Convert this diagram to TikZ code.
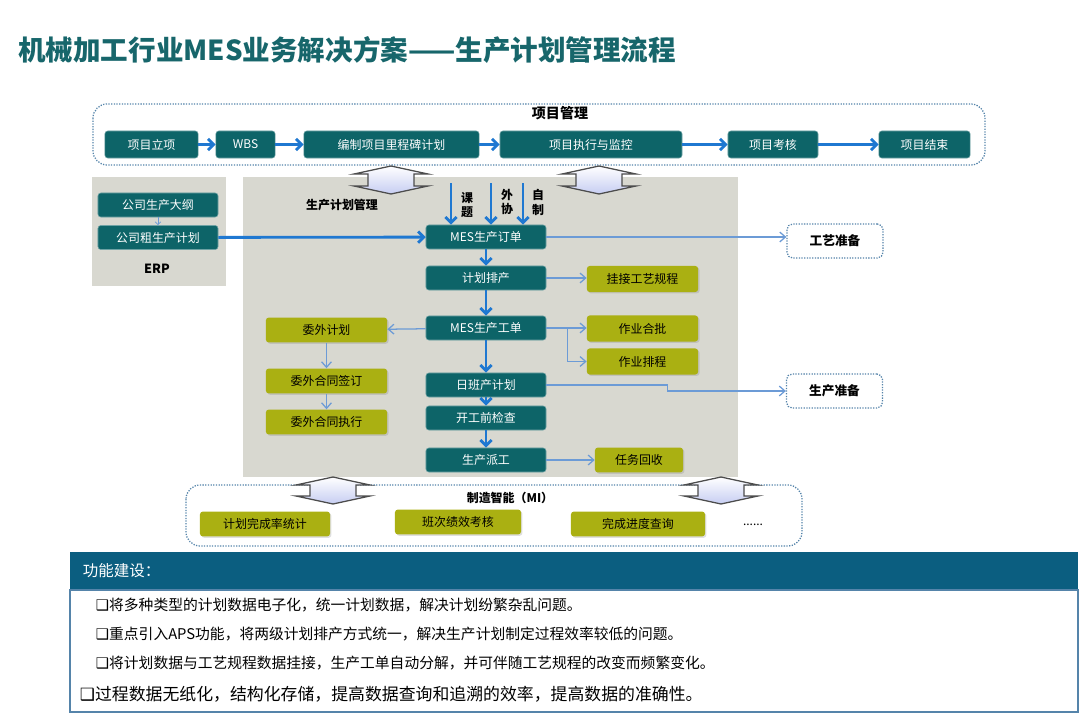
\documentclass[tikz,border=0pt]{standalone}
\usepackage{fontspec}
\setmainfont{Noto Sans CJK SC}
\newfontfamily\symfont{DejaVu Sans}
\usetikzlibrary{arrows.meta,positioning,shadows}
\definecolor{mestitle}{HTML}{17666B}
\definecolor{mesteal}{HTML}{0D6468}
\definecolor{mesolive}{HTML}{AAB012}
\definecolor{mesgray}{HTML}{D8D8D0}
\definecolor{mesblue}{HTML}{1F78D1}
\definecolor{mesthin}{HTML}{6C9BD6}
\definecolor{mesdash}{HTML}{5584AA}
\definecolor{meshead}{HTML}{0B5E80}
\definecolor{meslav}{HTML}{C6CDF2}

\begin{document}
\begin{tikzpicture}[x=0.025cm,y=-0.025cm,font=\fontsize{8.5}{10}\selectfont,
    tealbox/.style={draw=mesteal!60!white,fill=mesteal,text=white,rounded corners=2pt,minimum width=3cm,minimum height=0.6cm,inner sep=1pt},
    olivebox/.style={fill=mesolive,text=black,rounded corners=2pt,minimum width=3cm,minimum height=0.62cm,inner sep=1pt,
      drop shadow={shadow xshift=1pt,shadow yshift=-1pt,opacity=0.25}},
    prepbox/.style={draw=mesdash,densely dotted,line width=0.9pt,fill=white,rounded corners=4pt,minimum width=2.4cm,minimum height=0.85cm,font=\fontsize{9}{10}\selectfont\bfseries},
    bluearr/.style={-{Straight Barb[length=4pt,width=8pt]},mesblue,line width=2pt},
    thinarr/.style={-{Straight Barb[length=4pt,width=7pt]},mesthin,line width=0.9pt},
    boldlbl/.style={font=\fontsize{8.5}{10.6}\selectfont\bfseries,align=center,inner sep=0pt}]
  \useasboundingbox (0,0) rectangle (1080,716);
  \node[mestitle,anchor=west,font=\fontsize{19.6}{22}\selectfont\bfseries,inner sep=0pt] (title) at (18,50) {机械加工行业MES业务解决方案——生产计划管理流程};

  % panels
  \draw[mesdash,densely dotted,line width=0.9pt,rounded corners=10pt] (93,104) rectangle (985,165);
  \fill[mesgray] (92,177) rectangle (226,286);
  \fill[mesgray] (243,177) rectangle (738,477);
  \draw[mesdash,densely dotted,line width=0.9pt,rounded corners=10pt] (186,485) rectangle (802,546);

  % project management row
  \node[font=\fontsize{10}{12}\selectfont\bfseries] (pmlbl) at (560,113) {项目管理};
  \node[tealbox,minimum width=2.33cm,minimum height=0.675cm] (lx) at (151.5,144.5) {项目立项};
  \node[tealbox,minimum width=1.48cm,minimum height=0.675cm] (wbs) at (245.5,144.5) {WBS};
  \node[tealbox,minimum width=4.38cm,minimum height=0.675cm] (lcb) at (391.5,144.5) {编制项目里程碑计划};
  \node[tealbox,minimum width=4.55cm,minimum height=0.675cm] (zxjk) at (591,144.5) {项目执行与监控};
  \node[tealbox,minimum width=2.25cm,minimum height=0.675cm] (kh) at (773,144.5) {项目考核};
  \node[tealbox,minimum width=2.28cm,minimum height=0.675cm] (js) at (924.5,144.5) {项目结束};
  \draw[bluearr] (lx) -- (wbs);
  \draw[bluearr] (wbs) -- (lcb);
  \draw[bluearr] (lcb) -- (zxjk);
  \draw[bluearr] (zxjk) -- (kh);
  \draw[bluearr] (kh) -- (js);

  % ERP
  \node[tealbox] (dg) at (158,205) {公司生产大纲};
  \node[tealbox] (cjh) at (158,237.5) {公司粗生产计划};
  \node[boldlbl,font=\fontsize{9}{10}\selectfont\bfseries] (erp) at (157,269) {ERP};
  \draw[thinarr,line width=0.6pt,-{Straight Barb[length=2pt,width=4pt]}] (dg) -- (cjh);

  % production plan management
  \node[boldlbl] (ptitle) at (342,205) {生产计划管理};
  \node[tealbox] (dd) at (486,237) {MES生产订单};
  \node[tealbox] (pc) at (486,278) {计划排产};
  \node[tealbox] (gd) at (486,328) {MES生产工单};
  \node[tealbox] (rb) at (486,385) {日班产计划};
  \node[tealbox] (jc) at (486,418) {开工前检查};
  \node[tealbox] (pg) at (486,460) {生产派工};
  \node[olivebox,minimum width=2.78cm,minimum height=0.65cm] (gj) at (642.5,279) {挂接工艺规程};
  \node[olivebox,minimum width=2.78cm,minimum height=0.65cm] (hp) at (642.5,328.5) {作业合批};
  \node[olivebox,minimum width=2.78cm,minimum height=0.65cm] (pcg) at (642.5,361.5) {作业排程};
  \node[olivebox,minimum width=3.03cm] (wj) at (326.5,330) {委外计划};
  \node[olivebox,minimum width=3.03cm] (qd) at (326.5,381) {委外合同签订};
  \node[olivebox,minimum width=3.03cm] (zx) at (326.5,422) {委外合同执行};
  \node[olivebox,minimum width=2.2cm] (hs) at (639,460) {任务回收};
  \node[prepbox] (gyzb) at (835,241) {工艺准备};
  \node[prepbox] (sczb) at (834.5,391) {生产准备};

  \coordinate (kt) at (451,183);
  \coordinate (wx) at (491,183);
  \coordinate (zz) at (523,183);
  \node[boldlbl] (ktl) at (467,205) {课\\题};
  \node[boldlbl] (wxl) at (507,202) {外\\协};
  \node[boldlbl] (zzl) at (538,202) {自\\制};
  \draw[bluearr] (kt) -- (kt |- dd.north);
  \draw[bluearr] (wx) -- (wx |- dd.north);
  \draw[bluearr] (zz) -- (zz |- dd.north);

  \draw[bluearr] (cjh) -- (dd);
  \draw[bluearr] (dd) -- (pc);
  \draw[bluearr] (pc) -- (gd);
  \draw[bluearr] (gd) -- (rb);
  \draw[bluearr] (rb) -- (jc);
  \draw[bluearr] (jc) -- (pg);

  \draw[thinarr] (dd.east) -- (dd.east -| gyzb.west);
  \draw[thinarr] (rb.east) -- ++(121,0) |- (sczb.west);
  \draw[thinarr] (pc) -- (pc -| gj.west);
  \draw[thinarr] (gd) -- (gd -| hp.west);
  \draw[thinarr] (gd.east) ++(21,0) |- (pcg.west);
  \draw[thinarr] (gd) -- (wj);
  \draw[thinarr] (wj) -- (qd);
  \draw[thinarr] (qd) -- (zx);
  \draw[thinarr] (pg) -- (hs);

  % manufacturing intelligence
  \node[font=\fontsize{8.5}{10}\selectfont\bfseries] (milbl) at (510,498) {制造智能（MI）};
  \node[olivebox,minimum width=3.25cm] (t1) at (265,524) {计划完成率统计};
  \node[olivebox,minimum width=3.15cm] (t2) at (458,522) {班次绩效考核};
  \node[olivebox,minimum width=3.35cm] (t3) at (638,524) {完成进度查询};
  \node (more) at (753,525) {......};

  % up-down block arrows
  \foreach \cx/\yt/\yb in {391/166/194, 599/166/194, 333/477/504, 721/477/504}{
    \draw[black!70,line width=0.9pt,top color=white,bottom color=meslav]
      (\cx,\yt) -- (\cx+37,\yt+8) -- (\cx+23,\yt+8) -- (\cx+23,\yb-8) -- (\cx+37,\yb-8) -- (\cx,\yb)
      -- (\cx-37,\yb-8) -- (\cx-23,\yb-8) -- (\cx-23,\yt+8) -- (\cx-37,\yt+8) -- cycle;
  }

  % functions
  \fill[meshead] (70,552) rectangle (1078,590);
  \draw[mesdash,line width=0.8pt,fill=white] (70,590) rectangle (1078,712);
  \node[white,anchor=west,font=\fontsize{11}{13}\selectfont] (hdr) at (78,571) {功能建设：};
  \node[anchor=west,font=\fontsize{10.5}{12}\selectfont] (l1) at (91,605) {{\symfont ❑}将多种类型的计划数据电子化，统一计划数据，解决计划纷繁杂乱问题。};
  \node[anchor=west,font=\fontsize{10.5}{12}\selectfont] (l2) at (91,634) {{\symfont ❑}重点引入APS功能，将两级计划排产方式统一，解决生产计划制定过程效率较低的问题。};
  \node[anchor=west,font=\fontsize{10.5}{12}\selectfont] (l3) at (91,663) {{\symfont ❑}将计划数据与工艺规程数据挂接，生产工单自动分解，并可伴随工艺规程的改变而频繁变化。};
  \node[anchor=west,font=\fontsize{12}{14}\selectfont] (l4) at (75,694) {{\symfont ❑}过程数据无纸化，结构化存储，提高数据查询和追溯的效率，提高数据的准确性。};
\end{tikzpicture}
\end{document}
